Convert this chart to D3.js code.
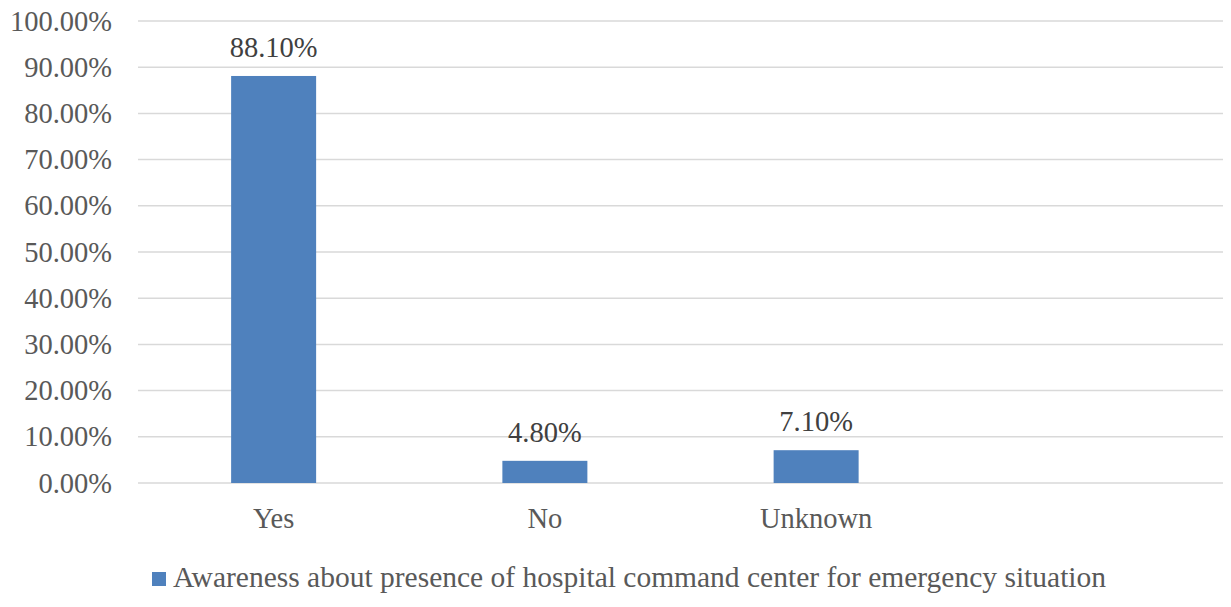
<!DOCTYPE html>
<html><head><meta charset="utf-8">
<script src="https://cdn.jsdelivr.net/npm/d3@7/dist/d3.min.js"></script>
<style>body{margin:0;background:#fff}svg{display:block}svg text{font-family:'Times New Roman','Liberation Serif',Tinos,'DejaVu Serif',serif !important}</style>
</head><body>
<svg id="c" width="1231" height="607"></svg>
<script>
const categories = ["Yes", "No", "Unknown", ""];
const values = [88.10, 4.80, 7.10, null];
const yTicks = [0, 10, 20, 30, 40, 50, 60, 70, 80, 90, 100];
const seriesName = "Awareness about presence of hospital command center for emergency situation";

const svg = d3.select("#c");
const mLeft = 138, mRight = 1223, mTop = 21, mBottom = 483;
const fs = 28.5;
const fam = "'Times New Roman','Liberation Serif',serif";
const x = d3.scaleBand().domain(d3.range(categories.length)).range([mLeft, mRight]).paddingInner(0.685).paddingOuter(0.3425);
const y = d3.scaleLinear().domain([0, 100]).range([mBottom, mTop]);
const color = "#4f81bd";
const textColor = "#595959";

// gridlines
svg.append("g").selectAll("line").data(yTicks).join("line")
  .attr("x1", mLeft).attr("x2", mRight)
  .attr("y1", d => y(d)).attr("y2", d => y(d))
  .attr("stroke", "#d9d9d9").attr("stroke-width", 1.5);

// y axis labels
const yAxis = d3.axisLeft(y).tickValues(yTicks).tickSize(0).tickPadding(0).tickFormat(d => d.toFixed(2) + "%");
const ya = svg.append("g").attr("transform", `translate(${mLeft - 26},0)`).call(yAxis).attr("font-family", fam);
ya.select(".domain").remove();
ya.selectAll("text").attr("font-size", fs).attr("fill", textColor).style("font-family", fam);

// bars
const bw = 85;
const data = values.map((v, i) => ({i, v})).filter(d => d.v != null);
svg.append("g").selectAll("rect").data(data).join("rect")
  .attr("x", d => x(d.i) + x.bandwidth() / 2 - bw / 2)
  .attr("width", bw)
  .attr("y", d => y(d.v)).attr("height", d => y(0) - y(d.v))
  .attr("fill", color);

// value labels
svg.append("g").selectAll("text").data(data).join("text")
  .attr("x", d => x(d.i) + x.bandwidth() / 2)
  .attr("y", d => y(d.v) - 19)
  .attr("text-anchor", "middle").attr("font-size", fs).attr("fill", "#404040")
  .style("font-family", fam)
  .text(d => d.v.toFixed(2) + "%");

// x axis labels
const xAxis = d3.axisBottom(x).tickSize(0).tickPadding(0).tickFormat(i => categories[i]);
const xa = svg.append("g").attr("transform", `translate(0,${mBottom})`).call(xAxis).attr("font-family", fam);
xa.select(".domain").remove();
xa.selectAll("text").attr("font-size", fs).attr("fill", textColor).style("font-family", fam)
  .attr("dy", null).attr("y", 45);

// legend
const lg = svg.append("g");
lg.append("rect").attr("x", 152).attr("y", 572).attr("width", 14).attr("height", 14).attr("fill", color);
lg.append("text").attr("x", 173).attr("y", 587).attr("font-size", 29.5).attr("fill", textColor)
  .style("font-family", fam).text(seriesName);
</script>
</body></html>
